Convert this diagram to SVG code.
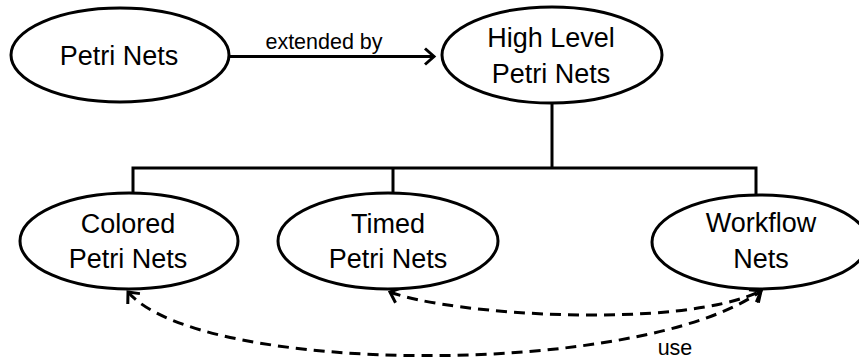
<svg xmlns="http://www.w3.org/2000/svg" width="859" height="360" viewBox="0 0 859 360">
  <style>
    .node ellipse { fill: #ffffff; stroke: #000000; stroke-width: 3; }
    .node text { font-family: "Liberation Sans", Arial, sans-serif; font-size: 27px; fill: #000000; text-anchor: middle; }
    .line { fill: none; stroke: #000000; stroke-width: 3; }
    .dashed { fill: none; stroke: #000000; stroke-width: 3; stroke-dasharray: 11 7; }
    .label { font-family: "Liberation Sans", Arial, sans-serif; font-size: 21.5px; fill: #000000; text-anchor: middle; }
  </style>
  <defs>
    <marker id="chevron" viewBox="0 0 10 16" refX="9" refY="8" markerWidth="10" markerHeight="16" markerUnits="userSpaceOnUse" orient="auto-start-reverse" overflow="visible">
      <path d="M0,0 L9,8 L0,16" fill="none" stroke="#000000" stroke-width="3" stroke-linejoin="miter"/>
    </marker>
  </defs>

  <rect width="859" height="360" fill="#ffffff"/>

  <!-- connectors -->
  <g id="connectors">
    <!-- extension arrow -->
    <path class="line" d="M229,56.5 L434,56.5" marker-end="url(#chevron)"/>
    <text class="label" x="324" y="49">extended by</text>

    <!-- hierarchy tree -->
    <path class="line" d="M552,103 L552,168"/>
    <path class="line" d="M133,193 L133,168 L756,168 L756,195"/>
    <path class="line" d="M393,168 L393,193"/>

    <!-- "use" relations -->
    <path class="dashed" d="M390,292 C450,315 680,330 761,291" marker-start="url(#chevron)" marker-end="url(#chevron)"/>
    <path class="dashed" d="M128,292 C200,376 640,378 761,291" marker-start="url(#chevron)" marker-end="url(#chevron)"/>
    <text class="label" x="675" y="355">use</text>
  </g>

  <!-- nodes -->
  <g id="petri-nets" class="node">
    <ellipse cx="120" cy="55" rx="109" ry="47"/>
    <text x="119" y="65">Petri Nets</text>
  </g>

  <g id="high-level-petri-nets" class="node">
    <ellipse cx="552" cy="55" rx="110" ry="48"/>
    <text x="551" y="47">High Level</text>
    <text x="551" y="83">Petri Nets</text>
  </g>

  <g id="colored-petri-nets" class="node">
    <ellipse cx="129" cy="241" rx="109" ry="48"/>
    <text x="128" y="233">Colored</text>
    <text x="128" y="268">Petri Nets</text>
  </g>

  <g id="timed-petri-nets" class="node">
    <ellipse cx="388" cy="241" rx="110" ry="48"/>
    <text x="388" y="233">Timed</text>
    <text x="388" y="268">Petri Nets</text>
  </g>

  <g id="workflow-nets" class="node">
    <ellipse cx="760" cy="242" rx="108" ry="47"/>
    <text x="761" y="232">Workflow</text>
    <text x="761" y="268">Nets</text>
  </g>
</svg>
